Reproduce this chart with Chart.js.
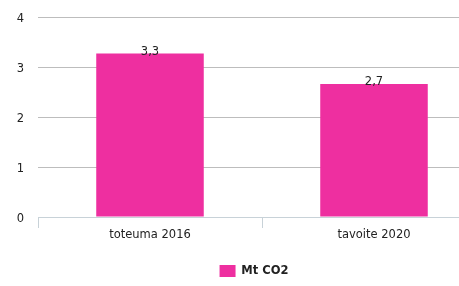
<!DOCTYPE html>
<html><head><meta charset="utf-8">
<script src="https://cdn.jsdelivr.net/npm/chart.js@4/dist/chart.umd.min.js"></script>
<style>html,body{margin:0;padding:0;overflow:hidden;background:#fff;width:459px;height:286px}</style>
</head><body>
<div style="width:508px;height:286px"><canvas id="c" width="508" height="286"></canvas></div>
<script>
const categories = ["toteuma 2016", "tavoite 2020"];
const seriesName = "Mt CO2";
const values = [3.27, 2.66];
const valueLabels = ["3,3", "2,7"];
const yTicks = [0, 1, 2, 3, 4];

const FONT = "'DejaVu Sans', sans-serif";
const labelPlugin = {
  id: 'vals',
  afterDatasetsDraw(chart) {
    const ctx = chart.ctx;
    const meta = chart.getDatasetMeta(0);
    ctx.save();
    ctx.font = "11.5px " + FONT;
    ctx.fillStyle = "#222";
    ctx.textAlign = "center";
    ctx.textBaseline = "alphabetic";
    meta.data.forEach((b, i) => { ctx.fillText(valueLabels[i], b.x, b.y + 1); });
    ctx.restore();
  }
};

new Chart(document.getElementById('c'), {
  type: 'bar',
  data: { labels: categories, datasets: [{ label: seriesName, data: values, backgroundColor: '#ee2fa0', barPercentage: 0.48, categoryPercentage: 1 }] },
  options: {
    responsive: false, animation: false,
    layout: { autoPadding: false, padding: { top: 17, right: 0, left: 0, bottom: -1 } },
    plugins: {
      tooltip: { enabled: false },
      legend: { position: 'bottom', labels: { boxWidth: 16, boxHeight: 12, padding: 9, color: '#222', font: { family: FONT, size: 11.5, weight: 'bold' } } }
    },
    scales: {
      x: {
        grid: { offset: true, drawOnChartArea: false, drawTicks: true, tickLength: 11, color: '#c8d2d8' },
        border: { color: '#c8d2d8' },
        ticks: { padding: 0, color: '#222', font: { family: FONT, size: 11.5 } },
        afterFit(s) { s.height = 39; }
      },
      y: {
        min: 0, max: 4,
        afterBuildTicks(s) { s.ticks = yTicks.map(v => ({ value: v })); },
        grid: { drawTicks: false, color: '#bdbdbd' },
        border: { display: false },
        ticks: { padding: 14, labelOffset: 2, color: '#222', font: { family: FONT, size: 11.5 } },
        afterFit(s) { s.width = 38; s.paddingTop = 0; s.paddingBottom = 0; }
      },
      yr: {
        position: 'right', display: true,
        grid: { display: false }, border: { display: false },
        ticks: { display: false },
        afterFit(s) { s.width = 22; s.paddingTop = 0; s.paddingBottom = 0; }
      }
    }
  },
  plugins: [labelPlugin]
});
</script>
</body></html>
